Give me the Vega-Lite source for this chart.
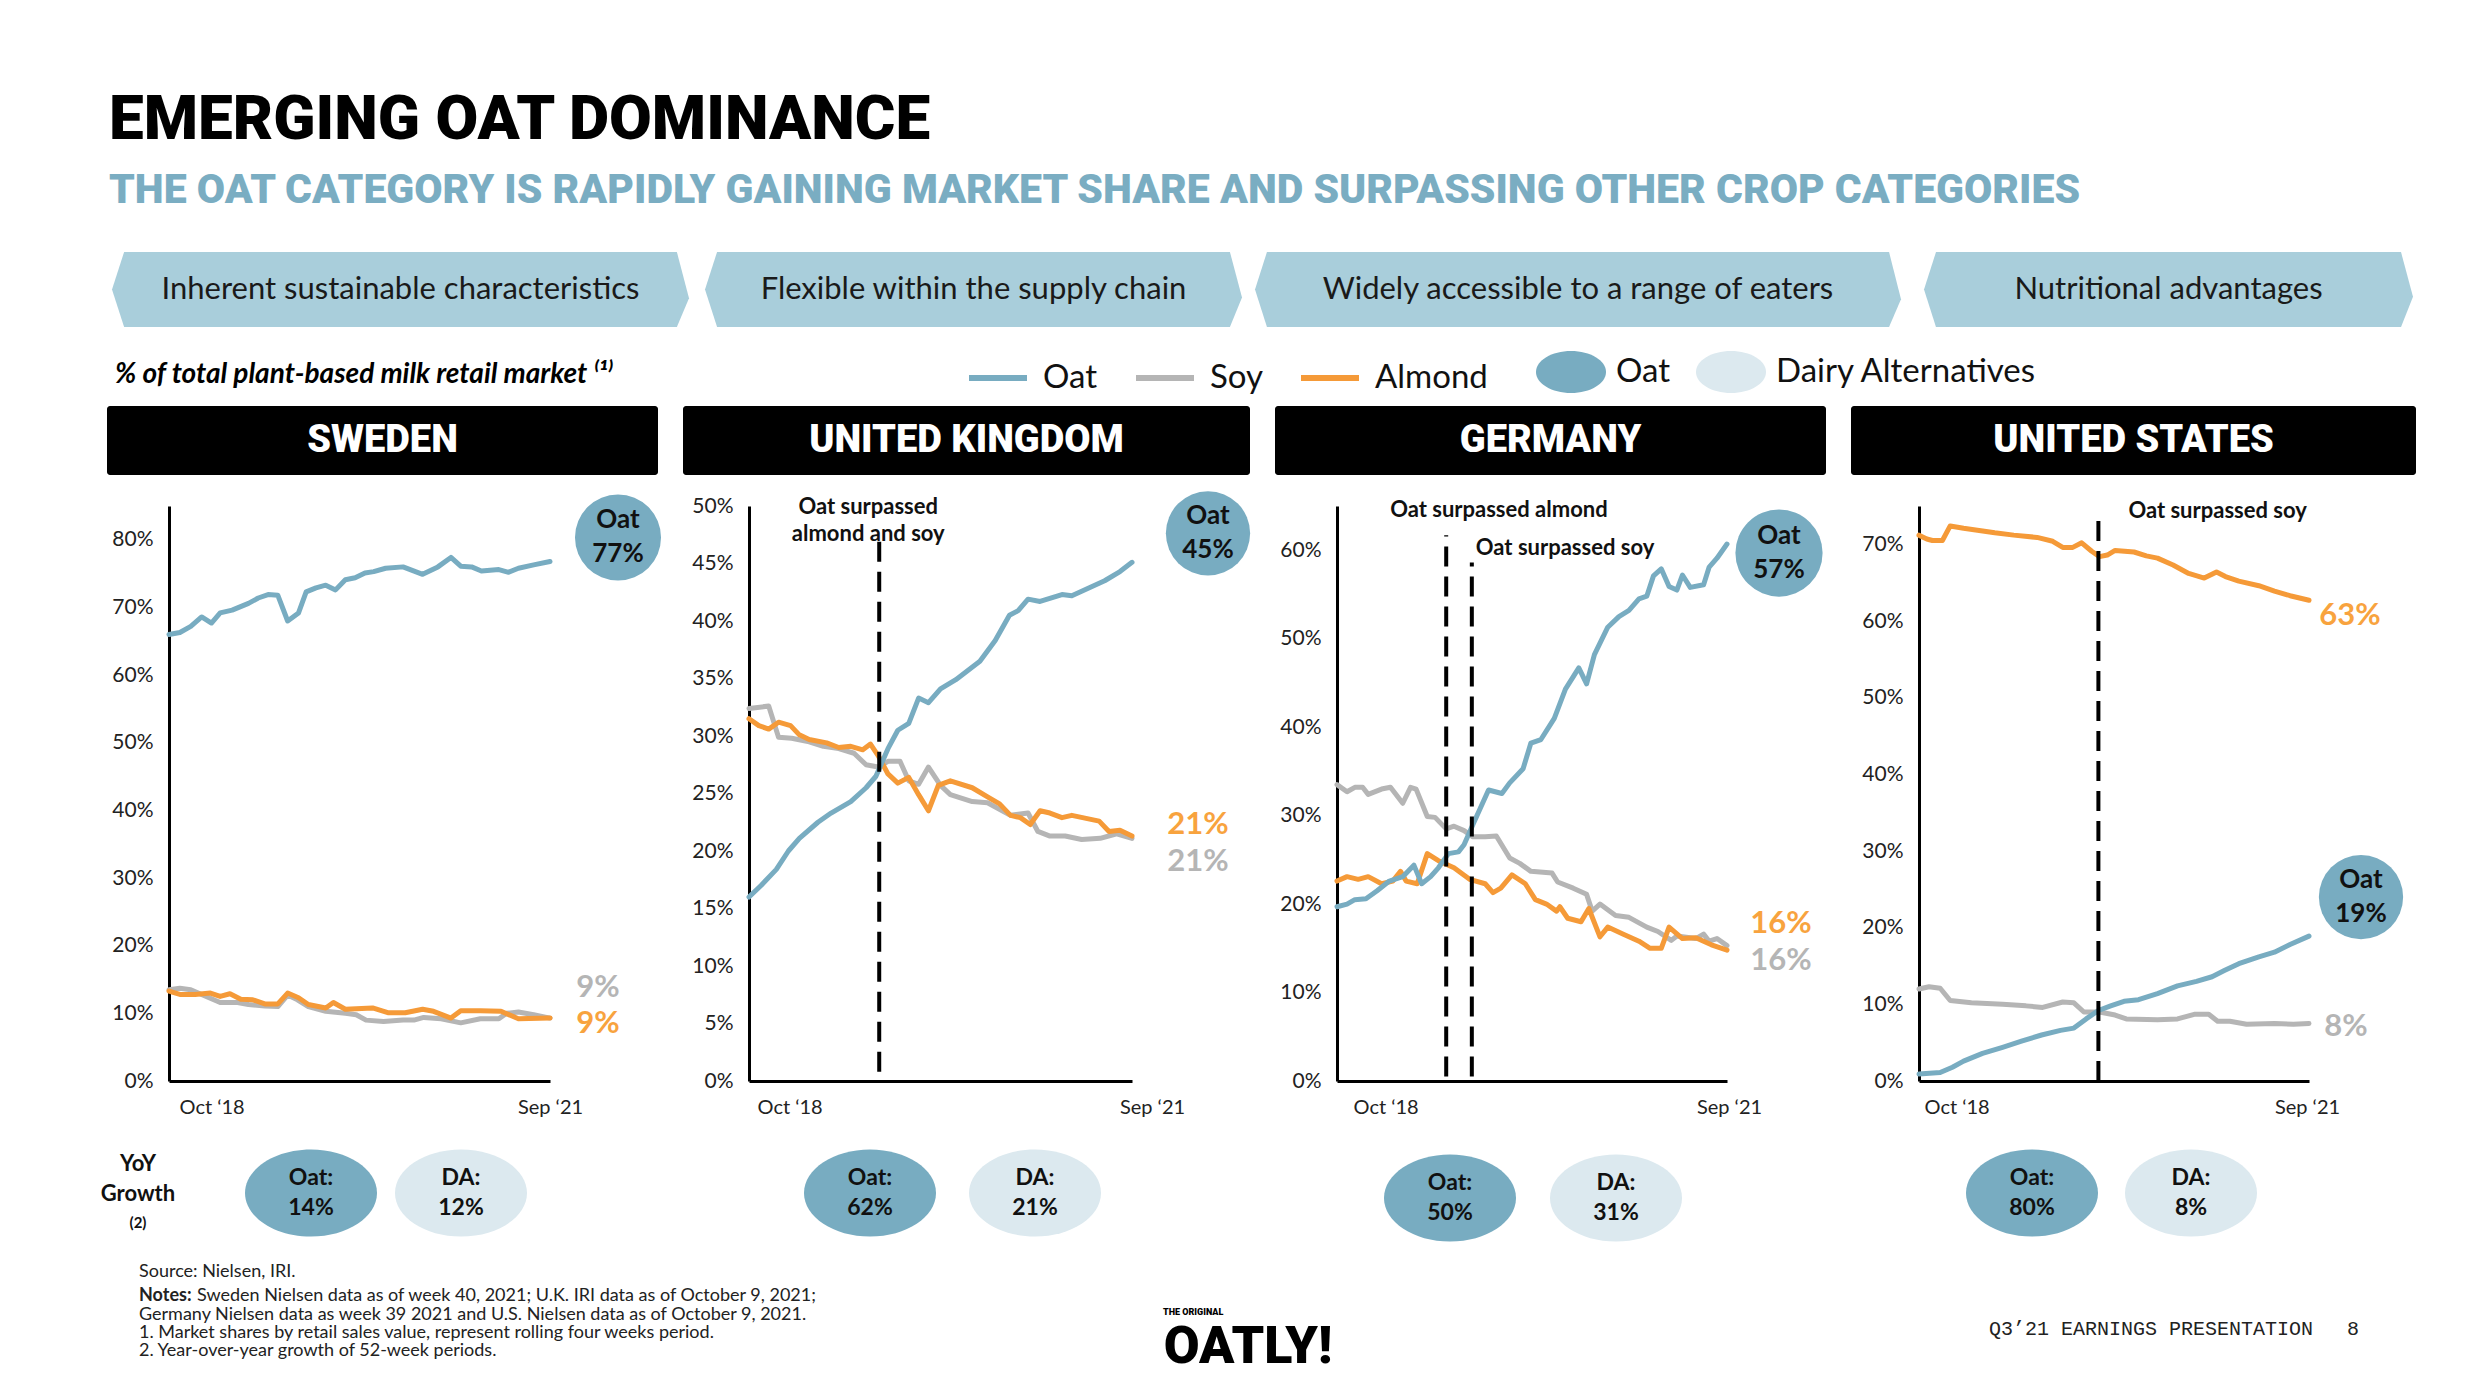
{
  "$schema": "https://vega.github.io/schema/vega-lite/v6.json",
  "background": "white",
  "padding": {"left": 100, "top": 88, "right": 40, "bottom": 10},
  "autosize": {"type": "pad"},
  "bounds": "flush",
  "align": "each",
  "columns": 4,
  "spacing": {"row": 31, "column": 25},
  "config": {
    "view": {"stroke": null},
    "font": "Lato",
    "axis": {"domainColor": "#000", "domainWidth": 3, "ticks": false, "grid": false, "labelFont": "Lato", "labelFontSize": 21, "labelColor": "#222", "labelPadding": 16, "labelOverlap": false, "labelFlush": false},
    "axisX": {"labelFontSize": 20}
  },
  "datasets": {
    "banners": [
      {"b": "Inherent sustainable characteristics"},
      {"b": "Flexible within the supply chain"},
      {"b": "Widely accessible to a range of eaters"},
      {"b": "Nutritional advantages"}
    ],
    "headers": [
      {"c": "Sweden", "name": "SWEDEN"},
      {"c": "UK", "name": "UNITED KINGDOM"},
      {"c": "Germany", "name": "GERMANY"},
      {"c": "US", "name": "UNITED STATES"}
    ],
    "ends": [
      {"c": "Sweden", "s": "Oat", "t": 35, "v": 76.8, "label": "Oat\n77%"},
      {"c": "Sweden", "s": "Soy", "t": 35, "v": 9.3, "label": "9%"},
      {"c": "Sweden", "s": "Almond", "t": 35, "v": 9.3, "label": "9%"},
      {"c": "UK", "s": "Oat", "t": 35, "v": 45.1, "label": "Oat\n45%"},
      {"c": "UK", "s": "Soy", "t": 35, "v": 21.1, "label": "21%"},
      {"c": "UK", "s": "Almond", "t": 35, "v": 21.3, "label": "21%"},
      {"c": "Germany", "s": "Oat", "t": 35, "v": 60.7, "label": "Oat\n57%"},
      {"c": "Germany", "s": "Soy", "t": 35, "v": 15.3, "label": "16%"},
      {"c": "Germany", "s": "Almond", "t": 35, "v": 14.8, "label": "16%"},
      {"c": "US", "s": "Oat", "t": 35, "v": 18.9, "label": "Oat\n19%"},
      {"c": "US", "s": "Soy", "t": 35, "v": 7.5, "label": "8%"},
      {"c": "US", "s": "Almond", "t": 35, "v": 62.7, "label": "63%"}
    ],
    "notes": [
      {"c": "UK", "t": 11.9, "note": "Oat surpassed\nalmond and soy"},
      {"c": "Germany", "t": 9.8, "note": "Oat surpassed almond"},
      {"c": "Germany", "t": 12.1, "note": "Oat surpassed soy"},
      {"c": "US", "t": 16.1, "note": "Oat surpassed soy"}
    ],
    "growth": [
      {"c": "Sweden", "cat": "Oat", "label": "Oat:\n14%"},
      {"c": "Sweden", "cat": "Dairy Alternatives", "label": "DA:\n12%"},
      {"c": "UK", "cat": "Oat", "label": "Oat:\n62%"},
      {"c": "UK", "cat": "Dairy Alternatives", "label": "DA:\n21%"},
      {"c": "Germany", "cat": "Oat", "label": "Oat:\n50%"},
      {"c": "Germany", "cat": "Dairy Alternatives", "label": "DA:\n31%"},
      {"c": "US", "cat": "Oat", "label": "Oat:\n80%"},
      {"c": "US", "cat": "Dairy Alternatives", "label": "DA:\n8%"}
    ],
    "yoy": [
      {"cat": "YoY", "label": "YoY\nGrowth", "ref": "(2)"}
    ],
    "footer": [
      {"slot": "notes", "id": "source", "text": "Source: Nielsen, IRI."},
      {"slot": "notes", "id": "notesLabel", "text": "Notes:"},
      {"slot": "notes", "id": "notes1", "text": "Sweden Nielsen data as of week 40, 2021; U.K. IRI data as of October 9, 2021;"},
      {"slot": "notes", "id": "notes2", "text": "Germany Nielsen data as week 39 2021 and U.S. Nielsen data as of October 9, 2021.\n1.  Market shares by retail sales value, represent rolling four weeks period.\n2.  Year-over-year growth of 52-week periods."},
      {"slot": "logo", "id": "tag", "text": "THE ORIGINAL"},
      {"slot": "logo", "id": "logo", "text": "OATLY!"},
      {"slot": "footer", "id": "pres", "text": "Q3’21 EARNINGS PRESENTATION"},
      {"slot": "footer", "id": "page", "text": "8"}
    ],
    "lines": [
      {"c":"Sweden","s":"Soy","t":0,"v":13.5},{"c":"Sweden","s":"Soy","t":1.0,"v":13.7},{"c":"Sweden","s":"Soy","t":2.0,"v":13.5},{"c":"Sweden","s":"Soy","t":3.1,"v":12.7},{"c":"Sweden","s":"Soy","t":4.7,"v":11.6},{"c":"Sweden","s":"Soy","t":6.3,"v":11.6},{"c":"Sweden","s":"Soy","t":7.3,"v":11.3},{"c":"Sweden","s":"Soy","t":8.8,"v":11.1},{"c":"Sweden","s":"Soy","t":10.0,"v":11.0},{"c":"Sweden","s":"Soy","t":10.9,"v":12.7},{"c":"Sweden","s":"Soy","t":11.8,"v":12.0},{"c":"Sweden","s":"Soy","t":12.8,"v":11.0},{"c":"Sweden","s":"Soy","t":14.4,"v":10.3},{"c":"Sweden","s":"Soy","t":16.2,"v":10.0},{"c":"Sweden","s":"Soy","t":17.2,"v":9.8},{"c":"Sweden","s":"Soy","t":18.1,"v":9.0},{"c":"Sweden","s":"Soy","t":19.7,"v":8.8},{"c":"Sweden","s":"Soy","t":21.5,"v":9.0},{"c":"Sweden","s":"Soy","t":22.5,"v":9.0},{"c":"Sweden","s":"Soy","t":23.4,"v":9.4},{"c":"Sweden","s":"Soy","t":25.0,"v":9.2},{"c":"Sweden","s":"Soy","t":26.8,"v":8.6},{"c":"Sweden","s":"Soy","t":28.6,"v":9.2},{"c":"Sweden","s":"Soy","t":30.3,"v":9.2},{"c":"Sweden","s":"Soy","t":31.0,"v":10.0},{"c":"Sweden","s":"Soy","t":32.1,"v":10.2},{"c":"Sweden","s":"Soy","t":33.5,"v":9.8},{"c":"Sweden","s":"Soy","t":35,"v":9.3},
      {"c":"Sweden","s":"Almond","t":0,"v":13.3},{"c":"Sweden","s":"Almond","t":1.0,"v":12.8},{"c":"Sweden","s":"Almond","t":2.4,"v":12.8},{"c":"Sweden","s":"Almond","t":3.8,"v":13.0},{"c":"Sweden","s":"Almond","t":4.7,"v":12.5},{"c":"Sweden","s":"Almond","t":5.6,"v":12.9},{"c":"Sweden","s":"Almond","t":6.6,"v":12.1},{"c":"Sweden","s":"Almond","t":7.7,"v":12.0},{"c":"Sweden","s":"Almond","t":8.8,"v":11.4},{"c":"Sweden","s":"Almond","t":10.0,"v":11.4},{"c":"Sweden","s":"Almond","t":10.9,"v":13.0},{"c":"Sweden","s":"Almond","t":11.9,"v":12.3},{"c":"Sweden","s":"Almond","t":12.8,"v":11.3},{"c":"Sweden","s":"Almond","t":14.4,"v":10.8},{"c":"Sweden","s":"Almond","t":15.1,"v":11.6},{"c":"Sweden","s":"Almond","t":16.2,"v":10.6},{"c":"Sweden","s":"Almond","t":18.7,"v":10.8},{"c":"Sweden","s":"Almond","t":20.1,"v":10.1},{"c":"Sweden","s":"Almond","t":21.7,"v":10.1},{"c":"Sweden","s":"Almond","t":23.3,"v":10.6},{"c":"Sweden","s":"Almond","t":24.3,"v":10.3},{"c":"Sweden","s":"Almond","t":25.9,"v":9.3},{"c":"Sweden","s":"Almond","t":26.8,"v":10.4},{"c":"Sweden","s":"Almond","t":28.6,"v":10.4},{"c":"Sweden","s":"Almond","t":30.5,"v":10.3},{"c":"Sweden","s":"Almond","t":32.1,"v":9.2},{"c":"Sweden","s":"Almond","t":35,"v":9.3},
      {"c":"Sweden","s":"Oat","t":0,"v":66.0},{"c":"Sweden","s":"Oat","t":1.0,"v":66.3},{"c":"Sweden","s":"Oat","t":2.0,"v":67.2},{"c":"Sweden","s":"Oat","t":3.0,"v":68.6},{"c":"Sweden","s":"Oat","t":3.9,"v":67.7},{"c":"Sweden","s":"Oat","t":4.7,"v":69.2},{"c":"Sweden","s":"Oat","t":5.8,"v":69.6},{"c":"Sweden","s":"Oat","t":7.3,"v":70.6},{"c":"Sweden","s":"Oat","t":8.2,"v":71.4},{"c":"Sweden","s":"Oat","t":9.1,"v":71.9},{"c":"Sweden","s":"Oat","t":10.0,"v":71.8},{"c":"Sweden","s":"Oat","t":10.9,"v":68.0},{"c":"Sweden","s":"Oat","t":11.9,"v":69.2},{"c":"Sweden","s":"Oat","t":12.6,"v":72.3},{"c":"Sweden","s":"Oat","t":13.5,"v":72.9},{"c":"Sweden","s":"Oat","t":14.4,"v":73.3},{"c":"Sweden","s":"Oat","t":15.3,"v":72.6},{"c":"Sweden","s":"Oat","t":16.2,"v":74.1},{"c":"Sweden","s":"Oat","t":17.1,"v":74.4},{"c":"Sweden","s":"Oat","t":18.0,"v":75.1},{"c":"Sweden","s":"Oat","t":18.8,"v":75.3},{"c":"Sweden","s":"Oat","t":19.9,"v":75.8},{"c":"Sweden","s":"Oat","t":21.5,"v":76.0},{"c":"Sweden","s":"Oat","t":23.3,"v":74.9},{"c":"Sweden","s":"Oat","t":24.7,"v":76.0},{"c":"Sweden","s":"Oat","t":25.9,"v":77.4},{"c":"Sweden","s":"Oat","t":26.8,"v":76.1},{"c":"Sweden","s":"Oat","t":27.8,"v":76.0},{"c":"Sweden","s":"Oat","t":28.7,"v":75.4},{"c":"Sweden","s":"Oat","t":30.3,"v":75.6},{"c":"Sweden","s":"Oat","t":31.2,"v":75.2},{"c":"Sweden","s":"Oat","t":32.1,"v":75.8},{"c":"Sweden","s":"Oat","t":33.5,"v":76.3},{"c":"Sweden","s":"Oat","t":35,"v":76.8},
      {"c":"UK","s":"Soy","t":0,"v":32.4},{"c":"UK","s":"Soy","t":1.8,"v":32.6},{"c":"UK","s":"Soy","t":2.7,"v":29.9},{"c":"UK","s":"Soy","t":3.9,"v":29.8},{"c":"UK","s":"Soy","t":5.5,"v":29.5},{"c":"UK","s":"Soy","t":6.8,"v":29.1},{"c":"UK","s":"Soy","t":8.2,"v":28.9},{"c":"UK","s":"Soy","t":9.6,"v":28.5},{"c":"UK","s":"Soy","t":10.7,"v":27.5},{"c":"UK","s":"Soy","t":11.8,"v":27.3},{"c":"UK","s":"Soy","t":12.7,"v":27.8},{"c":"UK","s":"Soy","t":13.8,"v":27.8},{"c":"UK","s":"Soy","t":14.6,"v":26.1},{"c":"UK","s":"Soy","t":15.5,"v":25.8},{"c":"UK","s":"Soy","t":16.4,"v":27.3},{"c":"UK","s":"Soy","t":17.5,"v":25.7},{"c":"UK","s":"Soy","t":18.4,"v":24.9},{"c":"UK","s":"Soy","t":20.4,"v":24.3},{"c":"UK","s":"Soy","t":21.8,"v":24.2},{"c":"UK","s":"Soy","t":23.9,"v":23.1},{"c":"UK","s":"Soy","t":25.5,"v":23.3},{"c":"UK","s":"Soy","t":26.4,"v":21.7},{"c":"UK","s":"Soy","t":27.5,"v":21.3},{"c":"UK","s":"Soy","t":28.9,"v":21.3},{"c":"UK","s":"Soy","t":30.4,"v":21.0},{"c":"UK","s":"Soy","t":32.1,"v":21.1},{"c":"UK","s":"Soy","t":33.6,"v":21.5},{"c":"UK","s":"Soy","t":35,"v":21.1},
      {"c":"UK","s":"Almond","t":0,"v":31.5},{"c":"UK","s":"Almond","t":0.9,"v":30.9},{"c":"UK","s":"Almond","t":1.8,"v":30.6},{"c":"UK","s":"Almond","t":2.7,"v":31.2},{"c":"UK","s":"Almond","t":3.8,"v":30.9},{"c":"UK","s":"Almond","t":4.6,"v":30.1},{"c":"UK","s":"Almond","t":5.5,"v":29.7},{"c":"UK","s":"Almond","t":7.1,"v":29.4},{"c":"UK","s":"Almond","t":8.2,"v":29.0},{"c":"UK","s":"Almond","t":9.3,"v":29.1},{"c":"UK","s":"Almond","t":10.4,"v":28.8},{"c":"UK","s":"Almond","t":11.1,"v":29.3},{"c":"UK","s":"Almond","t":11.8,"v":28.3},{"c":"UK","s":"Almond","t":12.7,"v":26.7},{"c":"UK","s":"Almond","t":13.6,"v":25.9},{"c":"UK","s":"Almond","t":14.6,"v":26.4},{"c":"UK","s":"Almond","t":15.5,"v":24.9},{"c":"UK","s":"Almond","t":16.4,"v":23.5},{"c":"UK","s":"Almond","t":17.3,"v":25.7},{"c":"UK","s":"Almond","t":18.4,"v":26.1},{"c":"UK","s":"Almond","t":20.4,"v":25.5},{"c":"UK","s":"Almond","t":21.8,"v":24.7},{"c":"UK","s":"Almond","t":22.9,"v":24.1},{"c":"UK","s":"Almond","t":23.9,"v":23.1},{"c":"UK","s":"Almond","t":24.8,"v":22.9},{"c":"UK","s":"Almond","t":25.7,"v":22.3},{"c":"UK","s":"Almond","t":26.6,"v":23.5},{"c":"UK","s":"Almond","t":27.5,"v":23.3},{"c":"UK","s":"Almond","t":28.6,"v":22.9},{"c":"UK","s":"Almond","t":29.5,"v":23.1},{"c":"UK","s":"Almond","t":32.0,"v":22.6},{"c":"UK","s":"Almond","t":32.9,"v":21.7},{"c":"UK","s":"Almond","t":33.9,"v":21.8},{"c":"UK","s":"Almond","t":35,"v":21.3},
      {"c":"UK","s":"Oat","t":0,"v":16.0},{"c":"UK","s":"Oat","t":1.1,"v":17.0},{"c":"UK","s":"Oat","t":2.5,"v":18.4},{"c":"UK","s":"Oat","t":3.6,"v":20.0},{"c":"UK","s":"Oat","t":4.6,"v":21.1},{"c":"UK","s":"Oat","t":6.3,"v":22.5},{"c":"UK","s":"Oat","t":7.5,"v":23.3},{"c":"UK","s":"Oat","t":9.3,"v":24.3},{"c":"UK","s":"Oat","t":10.7,"v":25.5},{"c":"UK","s":"Oat","t":11.6,"v":26.5},{"c":"UK","s":"Oat","t":12.7,"v":28.9},{"c":"UK","s":"Oat","t":13.6,"v":30.5},{"c":"UK","s":"Oat","t":14.6,"v":31.1},{"c":"UK","s":"Oat","t":15.5,"v":33.3},{"c":"UK","s":"Oat","t":16.4,"v":32.9},{"c":"UK","s":"Oat","t":17.5,"v":34.1},{"c":"UK","s":"Oat","t":18.9,"v":34.9},{"c":"UK","s":"Oat","t":21.1,"v":36.5},{"c":"UK","s":"Oat","t":22.5,"v":38.3},{"c":"UK","s":"Oat","t":23.8,"v":40.5},{"c":"UK","s":"Oat","t":24.6,"v":40.9},{"c":"UK","s":"Oat","t":25.5,"v":41.9},{"c":"UK","s":"Oat","t":26.6,"v":41.7},{"c":"UK","s":"Oat","t":28.6,"v":42.3},{"c":"UK","s":"Oat","t":29.5,"v":42.2},{"c":"UK","s":"Oat","t":31.1,"v":42.9},{"c":"UK","s":"Oat","t":32.5,"v":43.5},{"c":"UK","s":"Oat","t":33.9,"v":44.3},{"c":"UK","s":"Oat","t":35,"v":45.1},
      {"c":"Germany","s":"Soy","t":0,"v":33.5},{"c":"Germany","s":"Soy","t":0.9,"v":32.7},{"c":"Germany","s":"Soy","t":1.6,"v":33.2},{"c":"Germany","s":"Soy","t":2.3,"v":33.2},{"c":"Germany","s":"Soy","t":2.8,"v":32.4},{"c":"Germany","s":"Soy","t":4.0,"v":33.0},{"c":"Germany","s":"Soy","t":4.8,"v":33.2},{"c":"Germany","s":"Soy","t":5.9,"v":31.4},{"c":"Germany","s":"Soy","t":6.6,"v":33.2},{"c":"Germany","s":"Soy","t":7.1,"v":33.0},{"c":"Germany","s":"Soy","t":8.1,"v":29.9},{"c":"Germany","s":"Soy","t":8.8,"v":29.8},{"c":"Germany","s":"Soy","t":9.8,"v":28.5},{"c":"Germany","s":"Soy","t":10.5,"v":28.8},{"c":"Germany","s":"Soy","t":11.4,"v":28.3},{"c":"Germany","s":"Soy","t":12.2,"v":27.6},{"c":"Germany","s":"Soy","t":13.3,"v":27.6},{"c":"Germany","s":"Soy","t":14.3,"v":27.7},{"c":"Germany","s":"Soy","t":15.5,"v":25.2},{"c":"Germany","s":"Soy","t":16.4,"v":24.6},{"c":"Germany","s":"Soy","t":17.4,"v":23.7},{"c":"Germany","s":"Soy","t":19.3,"v":23.5},{"c":"Germany","s":"Soy","t":19.8,"v":22.5},{"c":"Germany","s":"Soy","t":21.2,"v":21.8},{"c":"Germany","s":"Soy","t":22.4,"v":21.1},{"c":"Germany","s":"Soy","t":22.9,"v":19.2},{"c":"Germany","s":"Soy","t":23.6,"v":20.0},{"c":"Germany","s":"Soy","t":25.0,"v":18.7},{"c":"Germany","s":"Soy","t":26.2,"v":18.5},{"c":"Germany","s":"Soy","t":27.8,"v":17.4},{"c":"Germany","s":"Soy","t":28.8,"v":16.9},{"c":"Germany","s":"Soy","t":30.0,"v":15.9},{"c":"Germany","s":"Soy","t":30.5,"v":16.4},{"c":"Germany","s":"Soy","t":32.2,"v":16.1},{"c":"Germany","s":"Soy","t":32.9,"v":16.6},{"c":"Germany","s":"Soy","t":33.4,"v":15.8},{"c":"Germany","s":"Soy","t":34.1,"v":16.1},{"c":"Germany","s":"Soy","t":35,"v":15.3},
      {"c":"Germany","s":"Almond","t":0,"v":22.6},{"c":"Germany","s":"Almond","t":0.9,"v":23.1},{"c":"Germany","s":"Almond","t":1.9,"v":22.8},{"c":"Germany","s":"Almond","t":2.8,"v":23.1},{"c":"Germany","s":"Almond","t":4.0,"v":22.3},{"c":"Germany","s":"Almond","t":5.0,"v":22.6},{"c":"Germany","s":"Almond","t":5.7,"v":23.7},{"c":"Germany","s":"Almond","t":6.2,"v":22.6},{"c":"Germany","s":"Almond","t":7.2,"v":22.3},{"c":"Germany","s":"Almond","t":8.1,"v":25.7},{"c":"Germany","s":"Almond","t":9.1,"v":24.9},{"c":"Germany","s":"Almond","t":10.5,"v":24.1},{"c":"Germany","s":"Almond","t":11.9,"v":22.8},{"c":"Germany","s":"Almond","t":13.3,"v":22.3},{"c":"Germany","s":"Almond","t":14.0,"v":21.3},{"c":"Germany","s":"Almond","t":14.7,"v":21.8},{"c":"Germany","s":"Almond","t":15.7,"v":23.3},{"c":"Germany","s":"Almond","t":16.9,"v":22.3},{"c":"Germany","s":"Almond","t":17.8,"v":20.5},{"c":"Germany","s":"Almond","t":18.8,"v":20.0},{"c":"Germany","s":"Almond","t":19.7,"v":19.2},{"c":"Germany","s":"Almond","t":20.0,"v":19.7},{"c":"Germany","s":"Almond","t":20.7,"v":18.4},{"c":"Germany","s":"Almond","t":21.9,"v":18.0},{"c":"Germany","s":"Almond","t":22.6,"v":19.5},{"c":"Germany","s":"Almond","t":23.6,"v":16.3},{"c":"Germany","s":"Almond","t":24.3,"v":17.4},{"c":"Germany","s":"Almond","t":25.7,"v":16.6},{"c":"Germany","s":"Almond","t":27.1,"v":15.8},{"c":"Germany","s":"Almond","t":28.1,"v":15.0},{"c":"Germany","s":"Almond","t":29.1,"v":15.0},{"c":"Germany","s":"Almond","t":29.8,"v":17.4},{"c":"Germany","s":"Almond","t":31.0,"v":16.1},{"c":"Germany","s":"Almond","t":32.2,"v":16.2},{"c":"Germany","s":"Almond","t":33.6,"v":15.4},{"c":"Germany","s":"Almond","t":35,"v":14.8},
      {"c":"Germany","s":"Oat","t":0,"v":19.7},{"c":"Germany","s":"Oat","t":0.9,"v":20.0},{"c":"Germany","s":"Oat","t":1.6,"v":20.5},{"c":"Germany","s":"Oat","t":2.6,"v":20.6},{"c":"Germany","s":"Oat","t":3.6,"v":21.5},{"c":"Germany","s":"Oat","t":4.7,"v":22.6},{"c":"Germany","s":"Oat","t":5.9,"v":23.1},{"c":"Germany","s":"Oat","t":6.9,"v":24.4},{"c":"Germany","s":"Oat","t":7.6,"v":22.3},{"c":"Germany","s":"Oat","t":8.4,"v":23.1},{"c":"Germany","s":"Oat","t":9.1,"v":24.1},{"c":"Germany","s":"Oat","t":10.0,"v":25.7},{"c":"Germany","s":"Oat","t":10.9,"v":25.9},{"c":"Germany","s":"Oat","t":11.4,"v":26.7},{"c":"Germany","s":"Oat","t":12.2,"v":29.0},{"c":"Germany","s":"Oat","t":13.6,"v":32.9},{"c":"Germany","s":"Oat","t":14.8,"v":32.5},{"c":"Germany","s":"Oat","t":15.5,"v":33.7},{"c":"Germany","s":"Oat","t":16.7,"v":35.3},{"c":"Germany","s":"Oat","t":17.4,"v":38.2},{"c":"Germany","s":"Oat","t":18.3,"v":38.6},{"c":"Germany","s":"Oat","t":19.5,"v":41.0},{"c":"Germany","s":"Oat","t":20.5,"v":44.3},{"c":"Germany","s":"Oat","t":21.7,"v":46.7},{"c":"Germany","s":"Oat","t":22.4,"v":44.9},{"c":"Germany","s":"Oat","t":23.1,"v":48.2},{"c":"Germany","s":"Oat","t":24.3,"v":51.3},{"c":"Germany","s":"Oat","t":25.3,"v":52.5},{"c":"Germany","s":"Oat","t":26.2,"v":53.2},{"c":"Germany","s":"Oat","t":27.1,"v":54.5},{"c":"Germany","s":"Oat","t":27.8,"v":54.8},{"c":"Germany","s":"Oat","t":28.4,"v":57.1},{"c":"Germany","s":"Oat","t":29.1,"v":57.9},{"c":"Germany","s":"Oat","t":29.8,"v":55.9},{"c":"Germany","s":"Oat","t":30.5,"v":55.5},{"c":"Germany","s":"Oat","t":31.0,"v":57.2},{"c":"Germany","s":"Oat","t":31.7,"v":55.8},{"c":"Germany","s":"Oat","t":32.9,"v":56.1},{"c":"Germany","s":"Oat","t":33.4,"v":58.1},{"c":"Germany","s":"Oat","t":34.1,"v":59.1},{"c":"Germany","s":"Oat","t":35,"v":60.7},
      {"c":"US","s":"Soy","t":0,"v":12.0},{"c":"US","s":"Soy","t":0.9,"v":12.3},{"c":"US","s":"Soy","t":1.9,"v":12.1},{"c":"US","s":"Soy","t":2.8,"v":10.5},{"c":"US","s":"Soy","t":4.7,"v":10.2},{"c":"US","s":"Soy","t":7.5,"v":10.0},{"c":"US","s":"Soy","t":9.6,"v":9.8},{"c":"US","s":"Soy","t":11.1,"v":9.6},{"c":"US","s":"Soy","t":12.9,"v":10.3},{"c":"US","s":"Soy","t":13.9,"v":10.2},{"c":"US","s":"Soy","t":14.8,"v":9.0},{"c":"US","s":"Soy","t":16.2,"v":9.0},{"c":"US","s":"Soy","t":17.6,"v":8.6},{"c":"US","s":"Soy","t":18.6,"v":8.1},{"c":"US","s":"Soy","t":21.4,"v":8.0},{"c":"US","s":"Soy","t":23.2,"v":8.1},{"c":"US","s":"Soy","t":24.7,"v":8.7},{"c":"US","s":"Soy","t":26.0,"v":8.7},{"c":"US","s":"Soy","t":26.8,"v":7.8},{"c":"US","s":"Soy","t":27.9,"v":7.8},{"c":"US","s":"Soy","t":29.4,"v":7.4},{"c":"US","s":"Soy","t":31.9,"v":7.5},{"c":"US","s":"Soy","t":33.6,"v":7.4},{"c":"US","s":"Soy","t":35,"v":7.5},
      {"c":"US","s":"Almond","t":0,"v":71.2},{"c":"US","s":"Almond","t":0.7,"v":70.7},{"c":"US","s":"Almond","t":1.2,"v":70.5},{"c":"US","s":"Almond","t":2.1,"v":70.5},{"c":"US","s":"Almond","t":2.8,"v":72.4},{"c":"US","s":"Almond","t":4.0,"v":72.1},{"c":"US","s":"Almond","t":5.4,"v":71.8},{"c":"US","s":"Almond","t":6.8,"v":71.5},{"c":"US","s":"Almond","t":8.5,"v":71.2},{"c":"US","s":"Almond","t":10.6,"v":70.9},{"c":"US","s":"Almond","t":12.0,"v":70.4},{"c":"US","s":"Almond","t":12.9,"v":69.6},{"c":"US","s":"Almond","t":13.8,"v":69.6},{"c":"US","s":"Almond","t":14.6,"v":70.2},{"c":"US","s":"Almond","t":15.5,"v":69.1},{"c":"US","s":"Almond","t":16.2,"v":68.4},{"c":"US","s":"Almond","t":16.9,"v":68.6},{"c":"US","s":"Almond","t":17.6,"v":69.2},{"c":"US","s":"Almond","t":19.3,"v":69.0},{"c":"US","s":"Almond","t":20.4,"v":68.5},{"c":"US","s":"Almond","t":21.4,"v":68.2},{"c":"US","s":"Almond","t":22.8,"v":67.3},{"c":"US","s":"Almond","t":24.2,"v":66.2},{"c":"US","s":"Almond","t":25.6,"v":65.6},{"c":"US","s":"Almond","t":26.7,"v":66.4},{"c":"US","s":"Almond","t":27.5,"v":65.8},{"c":"US","s":"Almond","t":28.7,"v":65.2},{"c":"US","s":"Almond","t":30.5,"v":64.6},{"c":"US","s":"Almond","t":31.9,"v":63.9},{"c":"US","s":"Almond","t":33.3,"v":63.3},{"c":"US","s":"Almond","t":35,"v":62.7},
      {"c":"US","s":"Oat","t":0,"v":0.9},{"c":"US","s":"Oat","t":1.9,"v":1.1},{"c":"US","s":"Oat","t":3.0,"v":1.8},{"c":"US","s":"Oat","t":4.0,"v":2.6},{"c":"US","s":"Oat","t":5.7,"v":3.6},{"c":"US","s":"Oat","t":7.5,"v":4.4},{"c":"US","s":"Oat","t":9.2,"v":5.2},{"c":"US","s":"Oat","t":11.0,"v":6.0},{"c":"US","s":"Oat","t":12.7,"v":6.6},{"c":"US","s":"Oat","t":13.9,"v":6.9},{"c":"US","s":"Oat","t":15.0,"v":8.1},{"c":"US","s":"Oat","t":16.1,"v":9.2},{"c":"US","s":"Oat","t":17.2,"v":9.8},{"c":"US","s":"Oat","t":18.4,"v":10.4},{"c":"US","s":"Oat","t":19.7,"v":10.6},{"c":"US","s":"Oat","t":21.4,"v":11.4},{"c":"US","s":"Oat","t":23.2,"v":12.4},{"c":"US","s":"Oat","t":24.9,"v":13.0},{"c":"US","s":"Oat","t":26.3,"v":13.6},{"c":"US","s":"Oat","t":27.4,"v":14.4},{"c":"US","s":"Oat","t":28.7,"v":15.3},{"c":"US","s":"Oat","t":30.5,"v":16.2},{"c":"US","s":"Oat","t":31.9,"v":16.8},{"c":"US","s":"Oat","t":33.3,"v":17.8},{"c":"US","s":"Oat","t":35,"v":18.9}
    ]
  },
  "concat": [
    {
      "width": 551, "height": 123,
      "title": {"text": "EMERGING OAT DOMINANCE", "subtitle": "THE OAT CATEGORY IS RAPIDLY GAINING MARKET SHARE AND SURPASSING OTHER CROP CATEGORIES", "anchor": "start", "frame": "group", "font": "Roboto", "fontSize": 62, "fontWeight": 900, "color": "#000", "subtitleFont": "Roboto", "subtitleFontSize": 41, "subtitleFontWeight": 900, "subtitleColor": "#7aadc2", "subtitlePadding": 19, "offset": 40, "dx": 2},
      "data": {"name": "banners"},
      "transform": [{"filter": "datum.b == 'Inherent sustainable characteristics'"}],
      "encoding": {"x": {"field": "b", "type": "nominal", "scale": {"type": "point", "range": [293.5, 293.5], "padding": 0}, "axis": null}},
      "layer": [
        {"mark": {"type": "point", "filled": true, "opacity": 1, "fill": "#a9cedb", "strokeWidth": 0, "shape": "M -0.958 -0.13 L 0.958 -0.13 L 1 0.03 L 0.958 0.13 L -0.958 0.13 L -1 0 Z", "size": 332929, "yOffset": -24}},
        {"mark": {"type": "text", "fontSize": 31, "color": "#1a1a1a", "dy": -24}, "encoding": {"text": {"field": "b", "type": "nominal"}}}
      ]
    },
    {
      "width": 567, "height": 123,
      "data": {"name": "banners"},
      "transform": [{"filter": "datum.b == 'Flexible within the supply chain'"}],
      "encoding": {"x": {"field": "b", "type": "nominal", "scale": {"type": "point", "range": [290.5, 290.5], "padding": 0}, "axis": null}},
      "layer": [
        {"mark": {"type": "point", "filled": true, "opacity": 1, "fill": "#a9cedb", "strokeWidth": 0, "shape": "M -0.955 -0.14 L 0.955 -0.14 L 1 0.03 L 0.955 0.14 L -0.955 0.14 L -1 0 Z", "size": 288369, "yOffset": -24}},
        {"mark": {"type": "text", "fontSize": 31, "color": "#1a1a1a", "dy": -24}, "encoding": {"text": {"field": "b", "type": "nominal"}}}
      ]
    },
    {
      "width": 551, "height": 123,
      "data": {"name": "banners"},
      "transform": [{"filter": "datum.b == 'Widely accessible to a range of eaters'"}],
      "encoding": {"x": {"field": "b", "type": "nominal", "scale": {"type": "point", "range": [303, 303], "padding": 0}, "axis": null}},
      "layer": [
        {"mark": {"type": "point", "filled": true, "opacity": 1, "fill": "#a9cedb", "strokeWidth": 0, "shape": "M -0.963 -0.116 L 0.963 -0.116 L 1 0.03 L 0.963 0.116 L -0.963 0.116 L -1 0 Z", "size": 417316, "yOffset": -24}},
        {"mark": {"type": "text", "fontSize": 31, "color": "#1a1a1a", "dy": -24}, "encoding": {"text": {"field": "b", "type": "nominal"}}}
      ]
    },
    {
      "width": 565, "height": 123,
      "data": {"name": "banners"},
      "transform": [{"filter": "datum.b == 'Nutritional advantages'"}],
      "encoding": {"x": {"field": "b", "type": "nominal", "scale": {"type": "point", "range": [317.5, 317.5], "padding": 0}, "axis": null}},
      "layer": [
        {"mark": {"type": "point", "filled": true, "opacity": 1, "fill": "#a9cedb", "strokeWidth": 0, "shape": "M -0.951 -0.153 L 0.951 -0.153 L 1 0.03 L 0.951 0.153 L -0.951 0.153 L -1 0 Z", "size": 239121, "yOffset": -24}},
        {"mark": {"type": "text", "fontSize": 31, "color": "#1a1a1a", "dy": -24}, "encoding": {"text": {"field": "b", "type": "nominal"}}}
      ]
    },
    {
      "width": 551, "height": 69,
      "title": {"text": "% of total plant-based milk retail market ⁽¹⁾", "anchor": "start", "font": "Lato", "fontSize": 28, "fontWeight": "bold", "fontStyle": "italic", "color": "#000", "offset": 17, "dx": 8},
      "data": {"name": "headers"},
      "transform": [{"filter": "datum.c == 'Sweden'"}],
      "layer": [
        {"mark": {"type": "rect", "fill": "#000", "cornerRadius": 3}, "encoding": {}},
        {"mark": {"type": "text", "font": "Roboto", "fontSize": 38, "fontWeight": 900, "color": "#fff"}, "encoding": {"text": {"field": "name", "type": "nominal"}}}
      ]
    },
    {
      "width": 567, "height": 69,
      "data": {"name": "headers"},
      "transform": [{"filter": "datum.c == 'UK'"}],
      "layer": [
        {"mark": {"type": "rect", "fill": "#000", "cornerRadius": 3}, "encoding": {}},
        {"mark": {"type": "text", "font": "Roboto", "fontSize": 38, "fontWeight": 900, "color": "#fff"}, "encoding": {"text": {"field": "name", "type": "nominal"}}}
      ]
    },
    {
      "width": 551, "height": 69,
      "data": {"name": "headers"},
      "transform": [{"filter": "datum.c == 'Germany'"}],
      "layer": [
        {"mark": {"type": "rect", "fill": "#000", "cornerRadius": 3}, "encoding": {}},
        {"mark": {"type": "text", "font": "Roboto", "fontSize": 38, "fontWeight": 900, "color": "#fff"}, "encoding": {"text": {"field": "name", "type": "nominal"}}}
      ]
    },
    {
      "width": 565, "height": 69,
      "data": {"name": "headers"},
      "transform": [{"filter": "datum.c == 'US'"}],
      "layer": [
        {"mark": {"type": "rect", "fill": "#000", "cornerRadius": 3}, "encoding": {}},
        {"mark": {"type": "text", "font": "Roboto", "fontSize": 38, "fontWeight": 900, "color": "#fff"}, "encoding": {"text": {"field": "name", "type": "nominal"}}}
      ]
    },
    {
      "width": 551, "height": 575,
      "layer": [
        {"data": {"name": "lines"}, "transform": [{"filter": "datum.c == 'Sweden'"}],
         "mark": {"type": "line", "strokeWidth": 5, "strokeCap": "round", "strokeJoin": "round"},
         "encoding": {
           "x": {"field": "t", "type": "quantitative", "scale": {"domain": [0, 35], "range": [62, 443]}, "axis": {"values": [0, 35], "labelExpr": "datum.value == 0 ? 'Oct ‘18' : 'Sep ‘21'", "title": null, "labelAlign": {"condition": {"test": "datum.value == 0", "value": "left"}, "value": "center"}, "labelOffset": {"condition": {"test": "datum.value == 0", "value": 10}, "value": 0}}},
           "y": {"field": "v", "type": "quantitative", "scale": {"domain": [0, 85], "nice": false}, "axis": {"values": [0, 10, 20, 30, 40, 50, 60, 70, 80], "labelExpr": "datum.value + '%'", "title": null, "offset": -62}},
           "stroke": {"field": "s", "type": "nominal", "scale": {"domain": ["Oat", "Soy", "Almond"], "range": ["#78acc1", "#b5b5b5", "#f59a38"]}, "legend": {"title": null, "orient": "none", "legendX": 859, "legendY": 94, "direction": "horizontal", "symbolType": "stroke", "symbolSize": 3364, "symbolStrokeWidth": 6, "labelFontSize": 33, "labelFont": "Lato", "labelColor": "#111", "labelOffset": 13, "columnPadding": 26, "padding": 0, "labelLimit": 400}}
         }},
        {"data": {"name": "ends"}, "transform": [{"filter": "datum.c == 'Sweden' && datum.s == 'Oat'"}],
         "mark": {"type": "point", "filled": true, "shape": "circle", "size": 7400, "fill": "#78acc1", "opacity": 1, "strokeWidth": 0, "xOffset": 68, "yOffset": -24},
         "encoding": {"x": {"field": "t", "type": "quantitative"}, "y": {"field": "v", "type": "quantitative"}}},
        {"data": {"name": "ends"}, "transform": [{"filter": "datum.c == 'Sweden' && datum.s == 'Oat'"}],
         "mark": {"type": "text", "fontWeight": "bold", "fontSize": 26, "lineBreak": "\n", "lineHeight": 34, "color": "#111", "dx": 68, "dy": -41},
         "encoding": {"x": {"field": "t", "type": "quantitative"}, "y": {"field": "v", "type": "quantitative"}, "text": {"field": "label", "type": "nominal"}}},
        {"data": {"name": "ends"}, "transform": [{"filter": "datum.c == 'Sweden' && datum.s == 'Soy'"}],
         "mark": {"type": "text", "fontWeight": "bold", "fontSize": 31, "color": "#b5b5b5", "dx": 48, "dy": -30},
         "encoding": {"x": {"field": "t", "type": "quantitative"}, "y": {"field": "v", "type": "quantitative"}, "text": {"field": "label", "type": "nominal"}}},
        {"data": {"name": "ends"}, "transform": [{"filter": "datum.c == 'Sweden' && datum.s == 'Almond'"}],
         "mark": {"type": "text", "fontWeight": "bold", "fontSize": 31, "color": "#f8a33e", "dx": 48, "dy": 6},
         "encoding": {"x": {"field": "t", "type": "quantitative"}, "y": {"field": "v", "type": "quantitative"}, "text": {"field": "label", "type": "nominal"}}}
      ]
    },
    {
      "width": 567, "height": 575,
      "layer": [
        {"data": {"name": "lines"}, "transform": [{"filter": "datum.c == 'UK'"}],
         "mark": {"type": "line", "strokeWidth": 5, "strokeCap": "round", "strokeJoin": "round"},
         "encoding": {
           "x": {"field": "t", "type": "quantitative", "scale": {"domain": [0, 35], "range": [66, 449]}, "axis": {"values": [0, 35], "labelExpr": "datum.value == 0 ? 'Oct ‘18' : 'Sep ‘21'", "title": null, "labelAlign": {"condition": {"test": "datum.value == 0", "value": "left"}, "value": "center"}, "labelOffset": {"condition": {"test": "datum.value == 0", "value": 8}, "value": 20}}},
           "y": {"field": "v", "type": "quantitative", "scale": {"domain": [0, 50], "nice": false}, "axis": {"values": [0, 5, 10, 15, 20, 25, 30, 35, 40, 45, 50], "labelExpr": "datum.value + '%'", "title": null, "offset": -66}},
           "stroke": {"field": "s", "type": "nominal", "scale": {"domain": ["Oat", "Soy", "Almond"], "range": ["#78acc1", "#b5b5b5", "#f59a38"]}, "legend": {"title": null, "orient": "none", "legendX": 859, "legendY": 94, "direction": "horizontal", "symbolType": "stroke", "symbolSize": 3364, "symbolStrokeWidth": 6, "labelFontSize": 33, "labelFont": "Lato", "labelColor": "#111", "labelOffset": 13, "columnPadding": 26, "padding": 0, "labelLimit": 400}}
         }},
        {"data": {"name": "notes"}, "transform": [{"filter": "datum.c == 'UK'"}],
         "mark": {"type": "rule", "strokeDash": [20, 10], "strokeWidth": 4, "color": "#000"},
         "encoding": {"x": {"field": "t", "type": "quantitative"}, "y": {"datum": 0.8, "type": "quantitative"}, "y2": {"datum": 47.1}}},
        {"data": {"name": "notes"}, "transform": [{"filter": "datum.c == 'UK'"}],
         "mark": {"type": "text", "fontWeight": "bold", "fontSize": 22, "lineBreak": "\n", "lineHeight": 27, "color": "#111", "align": "center", "baseline": "middle", "dx": -11, "dy": 1},
         "encoding": {"x": {"field": "t", "type": "quantitative"}, "y": {"datum": 50, "type": "quantitative"}, "text": {"field": "note", "type": "nominal"}}},
        {"data": {"name": "ends"}, "transform": [{"filter": "datum.c == 'UK' && datum.s == 'Oat'"}],
         "mark": {"type": "point", "filled": true, "shape": "circle", "size": 7100, "fill": "#78acc1", "opacity": 1, "strokeWidth": 0, "xOffset": 76, "yOffset": -29},
         "encoding": {"x": {"field": "t", "type": "quantitative"}, "y": {"field": "v", "type": "quantitative"}}},
        {"data": {"name": "ends"}, "transform": [{"filter": "datum.c == 'UK' && datum.s == 'Oat'"}],
         "mark": {"type": "text", "fontWeight": "bold", "fontSize": 26, "lineBreak": "\n", "lineHeight": 34, "color": "#111", "dx": 76, "dy": -46},
         "encoding": {"x": {"field": "t", "type": "quantitative"}, "y": {"field": "v", "type": "quantitative"}, "text": {"field": "label", "type": "nominal"}}},
        {"data": {"name": "ends"}, "transform": [{"filter": "datum.c == 'UK' && datum.s == 'Soy'"}],
         "mark": {"type": "text", "fontWeight": "bold", "fontSize": 31, "color": "#b5b5b5", "dx": 66, "dy": 24},
         "encoding": {"x": {"field": "t", "type": "quantitative"}, "y": {"field": "v", "type": "quantitative"}, "text": {"field": "label", "type": "nominal"}}},
        {"data": {"name": "ends"}, "transform": [{"filter": "datum.c == 'UK' && datum.s == 'Almond'"}],
         "mark": {"type": "text", "fontWeight": "bold", "fontSize": 31, "color": "#f8a33e", "dx": 66, "dy": -11},
         "encoding": {"x": {"field": "t", "type": "quantitative"}, "y": {"field": "v", "type": "quantitative"}, "text": {"field": "label", "type": "nominal"}}}
      ]
    },
    {
      "width": 551, "height": 575,
      "layer": [
        {"data": {"name": "lines"}, "transform": [{"filter": "datum.c == 'Germany'"}],
         "mark": {"type": "line", "strokeWidth": 5, "strokeCap": "round", "strokeJoin": "round"},
         "encoding": {
           "x": {"field": "t", "type": "quantitative", "scale": {"domain": [0, 35], "range": [62, 452]}, "axis": {"values": [0, 35], "labelExpr": "datum.value == 0 ? 'Oct ‘18' : 'Sep ‘21'", "title": null, "labelAlign": {"condition": {"test": "datum.value == 0", "value": "left"}, "value": "center"}, "labelOffset": {"condition": {"test": "datum.value == 0", "value": 16}, "value": 2}}},
           "y": {"field": "v", "type": "quantitative", "scale": {"domain": [0, 65], "nice": false}, "axis": {"values": [0, 10, 20, 30, 40, 50, 60], "labelExpr": "datum.value + '%'", "title": null, "offset": -62}},
           "stroke": {"field": "s", "type": "nominal", "scale": {"domain": ["Oat", "Soy", "Almond"], "range": ["#78acc1", "#b5b5b5", "#f59a38"]}, "legend": {"title": null, "orient": "none", "legendX": 859, "legendY": 94, "direction": "horizontal", "symbolType": "stroke", "symbolSize": 3364, "symbolStrokeWidth": 6, "labelFontSize": 33, "labelFont": "Lato", "labelColor": "#111", "labelOffset": 13, "columnPadding": 26, "padding": 0, "labelLimit": 400}}
         }},
        {"data": {"name": "notes"}, "transform": [{"filter": "datum.c == 'Germany' && datum.t < 11"}],
         "mark": {"type": "rule", "strokeDash": [20, 10], "strokeWidth": 4, "color": "#000"},
         "encoding": {"x": {"field": "t", "type": "quantitative"}, "y": {"datum": 0.5, "type": "quantitative"}, "y2": {"datum": 61.7}}},
        {"data": {"name": "notes"}, "transform": [{"filter": "datum.c == 'Germany' && datum.t > 11"}],
         "mark": {"type": "rule", "strokeDash": [20, 10], "strokeWidth": 4, "color": "#000"},
         "encoding": {"x": {"field": "t", "type": "quantitative"}, "y": {"datum": 0.5, "type": "quantitative"}, "y2": {"datum": 58.6}}},
        {"data": {"name": "notes"}, "transform": [{"filter": "datum.c == 'Germany' && datum.t < 11"}],
         "mark": {"type": "text", "fontWeight": "bold", "fontSize": 22, "color": "#111", "align": "left", "baseline": "middle", "dx": -56, "dy": 4},
         "encoding": {"x": {"field": "t", "type": "quantitative"}, "y": {"datum": 65, "type": "quantitative"}, "text": {"field": "note", "type": "nominal"}}},
        {"data": {"name": "notes"}, "transform": [{"filter": "datum.c == 'Germany' && datum.t > 11"}],
         "mark": {"type": "text", "fontWeight": "bold", "fontSize": 22, "color": "#111", "align": "left", "baseline": "middle", "dx": 4, "dy": 42},
         "encoding": {"x": {"field": "t", "type": "quantitative"}, "y": {"datum": 65, "type": "quantitative"}, "text": {"field": "note", "type": "nominal"}}},
        {"data": {"name": "ends"}, "transform": [{"filter": "datum.c == 'Germany' && datum.s == 'Oat'"}],
         "mark": {"type": "point", "filled": true, "shape": "circle", "size": 7600, "fill": "#78acc1", "opacity": 1, "strokeWidth": 0, "xOffset": 52, "yOffset": 9},
         "encoding": {"x": {"field": "t", "type": "quantitative"}, "y": {"field": "v", "type": "quantitative"}}},
        {"data": {"name": "ends"}, "transform": [{"filter": "datum.c == 'Germany' && datum.s == 'Oat'"}],
         "mark": {"type": "text", "fontWeight": "bold", "fontSize": 26, "lineBreak": "\n", "lineHeight": 34, "color": "#111", "dx": 52, "dy": -8},
         "encoding": {"x": {"field": "t", "type": "quantitative"}, "y": {"field": "v", "type": "quantitative"}, "text": {"field": "label", "type": "nominal"}}},
        {"data": {"name": "ends"}, "transform": [{"filter": "datum.c == 'Germany' && datum.s == 'Soy'"}],
         "mark": {"type": "text", "fontWeight": "bold", "fontSize": 31, "color": "#b5b5b5", "dx": 54, "dy": 15},
         "encoding": {"x": {"field": "t", "type": "quantitative"}, "y": {"field": "v", "type": "quantitative"}, "text": {"field": "label", "type": "nominal"}}},
        {"data": {"name": "ends"}, "transform": [{"filter": "datum.c == 'Germany' && datum.s == 'Almond'"}],
         "mark": {"type": "text", "fontWeight": "bold", "fontSize": 31, "color": "#f8a33e", "dx": 54, "dy": -26},
         "encoding": {"x": {"field": "t", "type": "quantitative"}, "y": {"field": "v", "type": "quantitative"}, "text": {"field": "label", "type": "nominal"}}}
      ]
    },
    {
      "width": 565, "height": 575,
      "layer": [
        {"data": {"name": "lines"}, "transform": [{"filter": "datum.c == 'US'"}],
         "mark": {"type": "line", "strokeWidth": 5, "strokeCap": "round", "strokeJoin": "round"},
         "encoding": {
           "x": {"field": "t", "type": "quantitative", "scale": {"domain": [0, 35], "range": [68, 458]}, "axis": {"values": [0, 35], "labelExpr": "datum.value == 0 ? 'Oct ‘18' : 'Sep ‘21'", "title": null, "labelAlign": {"condition": {"test": "datum.value == 0", "value": "left"}, "value": "center"}, "labelOffset": {"condition": {"test": "datum.value == 0", "value": 5}, "value": -2}}},
           "y": {"field": "v", "type": "quantitative", "scale": {"domain": [0, 75], "nice": false}, "axis": {"values": [0, 10, 20, 30, 40, 50, 60, 70], "labelExpr": "datum.value + '%'", "title": null, "offset": -68}},
           "stroke": {"field": "s", "type": "nominal", "scale": {"domain": ["Oat", "Soy", "Almond"], "range": ["#78acc1", "#b5b5b5", "#f59a38"]}, "legend": {"title": null, "orient": "none", "legendX": 859, "legendY": 94, "direction": "horizontal", "symbolType": "stroke", "symbolSize": 3364, "symbolStrokeWidth": 6, "labelFontSize": 33, "labelFont": "Lato", "labelColor": "#111", "labelOffset": 13, "columnPadding": 26, "padding": 0, "labelLimit": 400}}
         }},
        {"data": {"name": "notes"}, "transform": [{"filter": "datum.c == 'US'"}],
         "mark": {"type": "rule", "strokeDash": [20, 10], "strokeWidth": 4, "color": "#000"},
         "encoding": {"x": {"field": "t", "type": "quantitative"}, "y": {"datum": 0, "type": "quantitative"}, "y2": {"datum": 73.3}}},
        {"data": {"name": "notes"}, "transform": [{"filter": "datum.c == 'US'"}],
         "mark": {"type": "text", "fontWeight": "bold", "fontSize": 22, "color": "#111", "align": "left", "baseline": "middle", "dx": 30, "dy": 5},
         "encoding": {"x": {"field": "t", "type": "quantitative"}, "y": {"datum": 75, "type": "quantitative"}, "text": {"field": "note", "type": "nominal"}}},
        {"data": {"name": "ends"}, "transform": [{"filter": "datum.c == 'US' && datum.s == 'Oat'"}],
         "mark": {"type": "point", "filled": true, "shape": "circle", "size": 7100, "fill": "#78acc1", "opacity": 1, "strokeWidth": 0, "xOffset": 52, "yOffset": -39},
         "encoding": {"x": {"field": "t", "type": "quantitative"}, "y": {"field": "v", "type": "quantitative"}}},
        {"data": {"name": "ends"}, "transform": [{"filter": "datum.c == 'US' && datum.s == 'Oat'"}],
         "mark": {"type": "text", "fontWeight": "bold", "fontSize": 26, "lineBreak": "\n", "lineHeight": 34, "color": "#111", "dx": 52, "dy": -56},
         "encoding": {"x": {"field": "t", "type": "quantitative"}, "y": {"field": "v", "type": "quantitative"}, "text": {"field": "label", "type": "nominal"}}},
        {"data": {"name": "ends"}, "transform": [{"filter": "datum.c == 'US' && datum.s == 'Soy'"}],
         "mark": {"type": "text", "fontWeight": "bold", "fontSize": 31, "color": "#b5b5b5", "dx": 37, "dy": 3},
         "encoding": {"x": {"field": "t", "type": "quantitative"}, "y": {"field": "v", "type": "quantitative"}, "text": {"field": "label", "type": "nominal"}}},
        {"data": {"name": "ends"}, "transform": [{"filter": "datum.c == 'US' && datum.s == 'Almond'"}],
         "mark": {"type": "text", "fontWeight": "bold", "fontSize": 31, "color": "#f8a33e", "dx": 41, "dy": 16},
         "encoding": {"x": {"field": "t", "type": "quantitative"}, "y": {"field": "v", "type": "quantitative"}, "text": {"field": "label", "type": "nominal"}}}
      ]
    },
    {
      "width": 551, "height": 162,
      "layer": [
        {"data": {"name": "growth"}, "transform": [{"filter": "datum.c == 'Sweden'"}],
         "mark": {"type": "point", "filled": true, "shape": "M -1 0 A 1 0.66 0 1 0 1 0 A 1 0.66 0 1 0 -1 0 Z", "size": 17424, "opacity": 1, "strokeWidth": 0},
         "encoding": {
           "x": {"field": "cat", "type": "nominal", "scale": {"type": "point", "domain": ["YoY", "Oat", "Dairy Alternatives"], "range": [54, 354], "padding": 0}, "axis": null},
           "fill": {"field": "cat", "type": "nominal", "scale": {"domain": ["Oat", "Dairy Alternatives"], "range": ["#78acc1", "#dce9ef"]}, "legend": {"title": null, "orient": "none", "legendX": 1429, "legendY": 85, "direction": "horizontal", "symbolType": "M -1 0 A 1 0.6 0 1 0 1 0 A 1 0.6 0 1 0 -1 0 Z", "symbolSize": 4900, "symbolStrokeWidth": 0, "symbolOpacity": 1, "labelFontSize": 33, "labelFont": "Lato", "labelColor": "#111", "labelOffset": 10, "columnPadding": 25, "padding": 0, "labelLimit": 400}}
         }},
        {"data": {"name": "growth"}, "transform": [{"filter": "datum.c == 'Sweden'"}],
         "mark": {"type": "text", "fontWeight": "bold", "fontSize": 23, "lineBreak": "\n", "lineHeight": 30, "color": "#111", "dy": -15},
         "encoding": {"x": {"field": "cat", "type": "nominal"}, "text": {"field": "label", "type": "nominal"}}},
        {"data": {"name": "yoy"},
         "mark": {"type": "text", "fontWeight": "bold", "fontSize": 22, "lineBreak": "\n", "lineHeight": 30, "color": "#111", "dx": -23, "dy": -29},
         "encoding": {"x": {"field": "cat", "type": "nominal"}, "text": {"field": "label", "type": "nominal"}}},
        {"data": {"name": "yoy"},
         "mark": {"type": "text", "fontWeight": "bold", "fontSize": 15, "color": "#111", "dx": -23, "dy": 30},
         "encoding": {"x": {"field": "cat", "type": "nominal"}, "text": {"field": "ref", "type": "nominal"}}}
      ]
    },
    {
      "width": 567, "height": 162,
      "layer": [
        {"data": {"name": "growth"}, "transform": [{"filter": "datum.c == 'UK'"}],
         "mark": {"type": "point", "filled": true, "shape": "M -1 0 A 1 0.66 0 1 0 1 0 A 1 0.66 0 1 0 -1 0 Z", "size": 17424, "opacity": 1, "strokeWidth": 0},
         "encoding": {
           "x": {"field": "cat", "type": "nominal", "scale": {"type": "point", "domain": ["Oat", "Dairy Alternatives"], "range": [187, 352], "padding": 0}, "axis": null},
           "fill": {"field": "cat", "type": "nominal", "scale": {"domain": ["Oat", "Dairy Alternatives"], "range": ["#78acc1", "#dce9ef"]}, "legend": {"title": null, "orient": "none", "legendX": 1429, "legendY": 85, "direction": "horizontal", "symbolType": "M -1 0 A 1 0.6 0 1 0 1 0 A 1 0.6 0 1 0 -1 0 Z", "symbolSize": 4900, "symbolStrokeWidth": 0, "symbolOpacity": 1, "labelFontSize": 33, "labelFont": "Lato", "labelColor": "#111", "labelOffset": 10, "columnPadding": 25, "padding": 0, "labelLimit": 400}}
         }},
        {"data": {"name": "growth"}, "transform": [{"filter": "datum.c == 'UK'"}],
         "mark": {"type": "text", "fontWeight": "bold", "fontSize": 23, "lineBreak": "\n", "lineHeight": 30, "color": "#111", "dy": -15},
         "encoding": {"x": {"field": "cat", "type": "nominal"}, "text": {"field": "label", "type": "nominal"}}}
      ]
    },
    {
      "width": 551, "height": 162,
      "layer": [
        {"data": {"name": "growth"}, "transform": [{"filter": "datum.c == 'Germany'"}],
         "mark": {"type": "point", "filled": true, "shape": "M -1 0 A 1 0.66 0 1 0 1 0 A 1 0.66 0 1 0 -1 0 Z", "size": 17424, "opacity": 1, "strokeWidth": 0, "yOffset": 5},
         "encoding": {
           "x": {"field": "cat", "type": "nominal", "scale": {"type": "point", "domain": ["Oat", "Dairy Alternatives"], "range": [175, 341], "padding": 0}, "axis": null},
           "fill": {"field": "cat", "type": "nominal", "scale": {"domain": ["Oat", "Dairy Alternatives"], "range": ["#78acc1", "#dce9ef"]}, "legend": {"title": null, "orient": "none", "legendX": 1429, "legendY": 85, "direction": "horizontal", "symbolType": "M -1 0 A 1 0.6 0 1 0 1 0 A 1 0.6 0 1 0 -1 0 Z", "symbolSize": 4900, "symbolStrokeWidth": 0, "symbolOpacity": 1, "labelFontSize": 33, "labelFont": "Lato", "labelColor": "#111", "labelOffset": 10, "columnPadding": 25, "padding": 0, "labelLimit": 400}}
         }},
        {"data": {"name": "growth"}, "transform": [{"filter": "datum.c == 'Germany'"}],
         "mark": {"type": "text", "fontWeight": "bold", "fontSize": 23, "lineBreak": "\n", "lineHeight": 30, "color": "#111", "dy": -10},
         "encoding": {"x": {"field": "cat", "type": "nominal"}, "text": {"field": "label", "type": "nominal"}}}
      ]
    },
    {
      "width": 565, "height": 162,
      "layer": [
        {"data": {"name": "growth"}, "transform": [{"filter": "datum.c == 'US'"}],
         "mark": {"type": "point", "filled": true, "shape": "M -1 0 A 1 0.66 0 1 0 1 0 A 1 0.66 0 1 0 -1 0 Z", "size": 17424, "opacity": 1, "strokeWidth": 0},
         "encoding": {
           "x": {"field": "cat", "type": "nominal", "scale": {"type": "point", "domain": ["Oat", "Dairy Alternatives"], "range": [181, 340], "padding": 0}, "axis": null},
           "fill": {"field": "cat", "type": "nominal", "scale": {"domain": ["Oat", "Dairy Alternatives"], "range": ["#78acc1", "#dce9ef"]}, "legend": {"title": null, "orient": "none", "legendX": 1429, "legendY": 85, "direction": "horizontal", "symbolType": "M -1 0 A 1 0.6 0 1 0 1 0 A 1 0.6 0 1 0 -1 0 Z", "symbolSize": 4900, "symbolStrokeWidth": 0, "symbolOpacity": 1, "labelFontSize": 33, "labelFont": "Lato", "labelColor": "#111", "labelOffset": 10, "columnPadding": 25, "padding": 0, "labelLimit": 400}}
         }},
        {"data": {"name": "growth"}, "transform": [{"filter": "datum.c == 'US'"}],
         "mark": {"type": "text", "fontWeight": "bold", "fontSize": 23, "lineBreak": "\n", "lineHeight": 30, "color": "#111", "dy": -15},
         "encoding": {"x": {"field": "cat", "type": "nominal"}, "text": {"field": "label", "type": "nominal"}}}
      ]
    },
    {
      "width": 551, "height": 60,
      "data": {"name": "footer"},
      "transform": [{"filter": "datum.slot == 'notes'"}],
      "encoding": {"x": {"field": "slot", "type": "nominal", "scale": {"type": "point", "range": [32, 32], "padding": 0}, "axis": null}},
      "layer": [
        {"transform": [{"filter": "datum.id == 'source'"}], "mark": {"type": "text", "align": "left", "fontSize": 18, "color": "#222", "dy": -63}, "encoding": {"text": {"field": "text", "type": "nominal"}}},
        {"transform": [{"filter": "datum.id == 'notesLabel'"}], "mark": {"type": "text", "align": "left", "fontSize": 18, "fontWeight": "bold", "color": "#222", "dy": -39}, "encoding": {"text": {"field": "text", "type": "nominal"}}},
        {"transform": [{"filter": "datum.id == 'notes1'"}], "mark": {"type": "text", "align": "left", "fontSize": 18, "color": "#222", "dx": 58, "dy": -39}, "encoding": {"text": {"field": "text", "type": "nominal"}}},
        {"transform": [{"filter": "datum.id == 'notes2'"}], "mark": {"type": "text", "align": "left", "fontSize": 18, "color": "#222", "lineBreak": "\n", "lineHeight": 18, "dy": -20}, "encoding": {"text": {"field": "text", "type": "nominal"}}}
      ]
    },
    {
      "width": 567, "height": 60,
      "data": {"name": "footer"},
      "transform": [{"filter": "datum.slot == 'logo'"}],
      "encoding": {"x": {"field": "slot", "type": "nominal", "scale": {"type": "point", "range": [565, 565], "padding": 0}, "axis": null}},
      "layer": [
        {"transform": [{"filter": "datum.id == 'tag'"}], "mark": {"type": "text", "align": "left", "fontSize": 9, "fontWeight": 900, "font": "Roboto", "color": "#000", "dx": -85, "dy": -23}, "encoding": {"text": {"field": "text", "type": "nominal"}}},
        {"transform": [{"filter": "datum.id == 'logo'"}], "mark": {"type": "text", "align": "center", "fontSize": 52, "fontWeight": 900, "font": "Roboto", "color": "#000", "dy": 12}, "encoding": {"text": {"field": "text", "type": "nominal"}}}
      ]
    },
    {
      "width": 551, "height": 60,
      "data": {"name": "footer"},
      "transform": [{"filter": "datum.slot == 'footer'"}],
      "encoding": {"x": {"field": "slot", "type": "nominal", "scale": {"type": "point", "range": [1087, 1087], "padding": 0}, "axis": null}},
      "layer": [
        {"transform": [{"filter": "datum.id == 'pres'"}], "mark": {"type": "text", "align": "right", "fontSize": 20, "font": "Liberation Mono", "color": "#222", "dx": -49, "dy": -6}, "encoding": {"text": {"field": "text", "type": "nominal"}}},
        {"transform": [{"filter": "datum.id == 'page'"}], "mark": {"type": "text", "align": "right", "fontSize": 20, "font": "Liberation Mono", "color": "#222", "dx": -3, "dy": -6}, "encoding": {"text": {"field": "text", "type": "nominal"}}}
      ]
    }
  ]
}
